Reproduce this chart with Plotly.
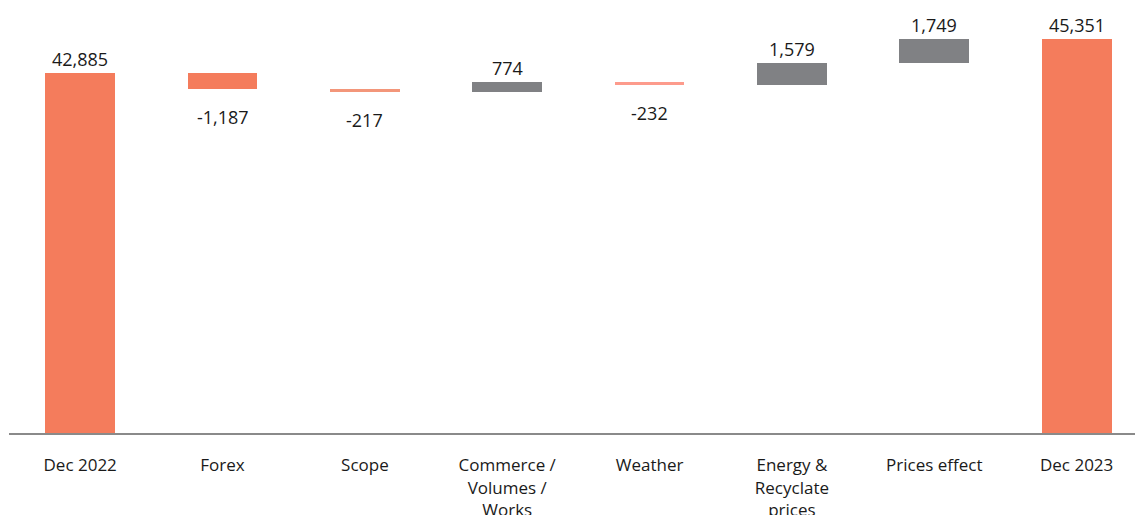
import plotly.graph_objects as go

# ---- data ----
categories = ["Dec 2022", "Forex", "Scope", "Commerce /<br>Volumes /<br>Works",
              "Weather", "Energy &<br>Recyclate<br>prices", "Prices effect", "Dec 2023"]
values = [42885, -1187, -217, 774, -232, 1579, 1749, 45351]
is_total = [True, False, False, False, False, False, False, True]

# ---- styles ----
bar_colors = ["#F47C5C", "#F47C5C", "#F3967A", "#808184", "#FD9B8C", "#808184", "#808184", "#F47C5C"]
FONT = "Open Sans"

bases, heights, tops, bottoms = [], [], [], []
running = 0
for v, t in zip(values, is_total):
    if t:
        bases.append(0)
        heights.append(v)
        running = v
        tops.append(v)
        bottoms.append(0)
    else:
        new = running + v
        lo, hi = min(running, new), max(running, new)
        bases.append(lo)
        heights.append(hi - lo)
        tops.append(hi)
        bottoms.append(lo)
        running = new

fig = go.Figure()
fig.add_trace(go.Bar(
    x=categories, y=heights, base=bases,
    marker=dict(color=bar_colors, line=dict(width=0)),
    width=0.49, hoverinfo="skip", showlegend=False,
))

for c, v, top, bot in zip(categories, values, tops, bottoms):
    if v >= 0:
        fig.add_annotation(x=c, y=top, text=f"{v:,}", showarrow=False,
                           yanchor="middle", yshift=14,
                           font=dict(family=FONT, size=18, color="#1a1a1a"))
    else:
        fig.add_annotation(x=c, y=bot, text=f"{v:,}", showarrow=False,
                           yanchor="middle", yshift=-28,
                           font=dict(family=FONT, size=18, color="#1a1a1a"))

# plot area on screen: x 9..1135, y 10..433
px_per_unit = 34 / 2466.0
t_margin = 10
b_margin = 82
fig_h = 515
axis_px = fig_h - b_margin
y0 = 42885 - (axis_px - 73) / px_per_unit
y1 = y0 + (axis_px - t_margin) / px_per_unit

fig.update_layout(
    width=1135, height=fig_h,
    margin=dict(l=9, r=0, t=t_margin, b=b_margin),
    plot_bgcolor="white", paper_bgcolor="white",
    font=dict(family=FONT, size=17, color="#1a1a1a"),
    bargap=0,
)
fig.update_xaxes(
    type="category", range=[-0.5, 7.41], automargin=False,
    showline=True, linecolor="#8a8a8a", linewidth=2,
    showgrid=False, ticks="", ticklabelstandoff=16,
    tickfont=dict(family=FONT, size=17, color="#1a1a1a"),
)
fig.update_yaxes(range=[y0, y1], visible=False, showgrid=False, zeroline=False,
                 automargin=False)

fig.write_html("out.html", config={"displayModeBar": False},
               post_script="document.body.style.margin='0';document.body.style.overflow='hidden';")
